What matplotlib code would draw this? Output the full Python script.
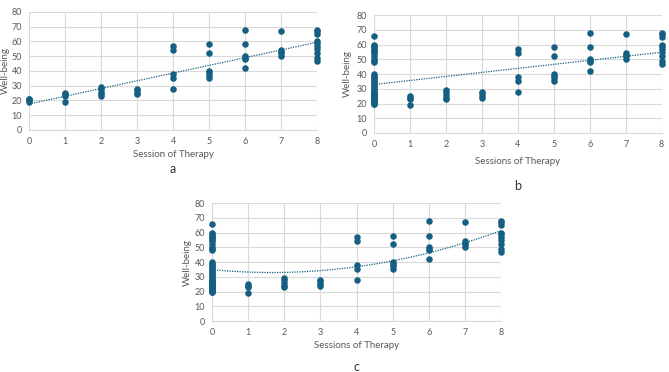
import numpy as np
import matplotlib.pyplot as plt

# 每次治疗后的幸福感得分（按疗程分组）
SESSIONS = [0, 1, 2, 3, 4, 5, 6, 7, 8]
WB_A0 = [19, 20, 21, 21]
WB_B0 = [20, 20, 21, 21, 22, 22, 23, 23, 24, 24, 25, 25, 26, 26, 27, 27, 28, 29, 30,
         31, 32, 33, 34, 35, 36, 37, 38, 39, 40, 48, 49, 50, 52, 54, 55, 56, 57, 58,
         59, 60, 66]
WB_1 = [19, 23, 24, 25]
WB_2 = [23, 24, 26, 28, 29]
WB_3 = [24, 25, 27, 28]
WB_4 = [28, 35, 38, 54, 57]
WB_5 = [35, 37, 39, 40, 52, 58]
WB_6 = [42, 48, 49, 50, 58, 68]
WB_7 = [50, 52, 53, 54, 67]
WB_8 = [47, 49, 52, 55, 57, 59, 60, 65, 67, 68]

PANELS = ["a", "b", "c"]
XLABELS = ["Session of Therapy", "Sessions of Therapy", "Sessions of Therapy"]
FIT_DEG = [1, 1, 2]

BLUE = "#156082"
GRID = "#d9d9d9"
TXT = "#595959"

plt.rcParams["font.family"] = ["Lato", "DejaVu Sans"]


def flatten(first):
    groups = [first, WB_1, WB_2, WB_3, WB_4, WB_5, WB_6, WB_7, WB_8]
    xs, ys = [], []
    for s, g in zip(SESSIONS, groups):
        xs += [s] * len(g)
        ys += g
    return np.array(xs, float), np.array(ys, float)


fig = plt.figure(figsize=(6.69, 3.72), dpi=100)
boxes = [[0.0433, 0.651, 0.431, 0.317],
         [0.559, 0.6425, 0.430, 0.317],
         [0.317, 0.137, 0.432, 0.317]]
firsts = [WB_A0, WB_B0, WB_B0]
# 标签位置（轴坐标）
ylab_x = [-0.083, -0.094, -0.087]
xlab_y = [-0.21, -0.24, -0.21]
letter_y = [-0.33, -0.45, -0.39]

for i, ax_box in enumerate(boxes):
    ax = fig.add_axes(ax_box)
    x, y = flatten(firsts[i])
    ax.scatter(x, y, s=22, color=BLUE, zorder=3, linewidths=0, clip_on=False)
    coef = np.polyfit(x, y, FIT_DEG[i])
    xx = np.linspace(0, 8, 100)
    ax.plot(xx, np.polyval(coef, xx), color=BLUE, lw=0.9, ls=(0, (1, 1)), zorder=4)

    ax.set_xlim(0, 8)
    ax.set_ylim(0, 80)
    ax.set_xticks(range(0, 9))
    ax.set_yticks(range(0, 81, 10))
    ax.grid(True, color=GRID, lw=0.8)
    ax.set_axisbelow(True)
    for sp in ["top", "right", "left"]:
        ax.spines[sp].set_visible(False)
    ax.spines["bottom"].set_color(GRID)
    ax.tick_params(length=0, labelsize=6.5, colors=TXT, pad=5)
    ax.set_xlabel(XLABELS[i], fontsize=7, color=TXT)
    ax.set_ylabel("Well-being", fontsize=7, color=TXT)
    ax.xaxis.set_label_coords(0.5, xlab_y[i])
    ax.yaxis.set_label_coords(ylab_x[i], 0.5)
    ax.xaxis.label.set_va("center")
    ax.yaxis.label.set_va("center")
    ax.text(0.5, letter_y[i], PANELS[i], transform=ax.transAxes, ha="center", va="center",
            fontsize=9, color="#333333")

fig.savefig("out.png", dpi=100)
